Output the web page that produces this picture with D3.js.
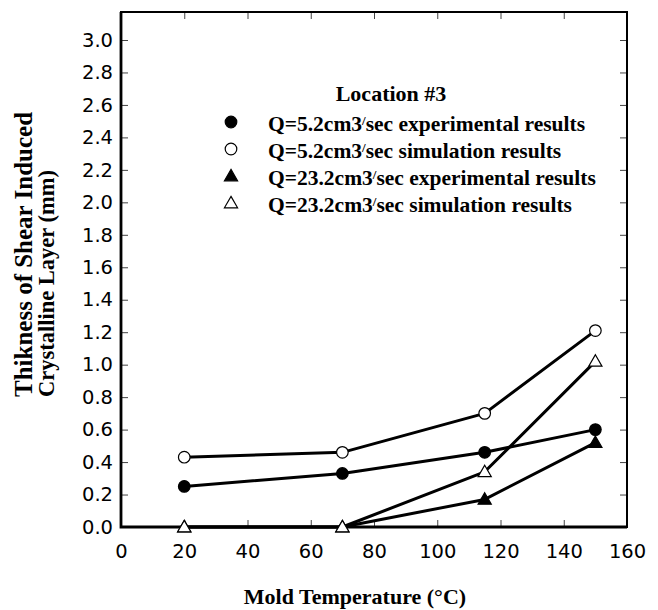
<!DOCTYPE html>
<html>
<head>
<meta charset="utf-8">
<script src="https://cdn.jsdelivr.net/npm/d3@7"></script>
<style>
  html, body { margin: 0; padding: 0; background: #fff; }
  svg { display: block; }
</style>
</head>
<body>
<svg id="chart" width="658" height="610"></svg>
<script>
// ---- data ----
const temperatures = [20, 70, 115, 150];
const q52Experimental = [0.25, 0.33, 0.46, 0.60];
const q52Simulation = [0.43, 0.46, 0.70, 1.21];
const q232Experimental = [0.0, 0.0, 0.17, 0.52];
const q232Simulation = [0.0, 0.0, 0.34, 1.02];
const xTicks = [0, 20, 40, 60, 80, 100, 120, 140, 160];
const yTicks = [0.0, 0.2, 0.4, 0.6, 0.8, 1.0, 1.2, 1.4, 1.6, 1.8, 2.0, 2.2, 2.4, 2.6, 2.8, 3.0];
const legendTitle = "Location #3";
const seriesNames = [
  "Q=5.2cm3/sec experimental results",
  "Q=5.2cm3/sec simulation results",
  "Q=23.2cm3/sec experimental results",
  "Q=23.2cm3/sec simulation results"
];
const xTitle = "Mold Temperature (°C)";
const yTitleLines = ["Thikness of Shear Induced", "Crystalline Layer (mm)"];

// ---- layout ----
const svg = d3.select("#chart");
const plotLeft = 121, plotRight = 627, plotTop = 12, plotBottom = 527;
const x = d3.scaleLinear().domain([0, 160]).range([plotLeft, plotRight]);
const y = d3.scaleLinear().domain([0, 3]).range([plotBottom, 40]);

const series = [
  { name: seriesNames[1], values: q52Simulation, shape: "circle", fill: "#fff" },
  { name: seriesNames[0], values: q52Experimental, shape: "circle", fill: "#000" },
  { name: seriesNames[2], values: q232Experimental, shape: "triangle", fill: "#000" },
  { name: seriesNames[3], values: q232Simulation, shape: "triangle", fill: "#fff" }
];

const tickFont = "'DejaVu Sans', sans-serif";
const serifFont = "'Liberation Serif', 'Times New Roman', serif";

// axes (ticks inward)
const gx = svg.append("g").attr("transform", `translate(0,${plotBottom})`)
  .call(d3.axisBottom(x).tickValues(xTicks).tickFormat(d3.format("d")).tickSizeInner(-7).tickSizeOuter(0).tickPadding(17));
const gy = svg.append("g").attr("transform", `translate(${plotLeft},0)`)
  .call(d3.axisLeft(y).tickValues(yTicks).tickFormat(d3.format(".1f")).tickSizeInner(-7).tickSizeOuter(0).tickPadding(8));
const gt = svg.append("g").attr("transform", `translate(0,${plotTop})`)
  .call(d3.axisTop(x).tickValues(xTicks.slice(1, -1)).tickFormat("").tickSizeInner(-7).tickSizeOuter(0));
const gr = svg.append("g").attr("transform", `translate(${plotRight},0)`)
  .call(d3.axisRight(y).tickValues(yTicks.slice(1)).tickFormat("").tickSizeInner(-7).tickSizeOuter(0));
[gx, gy, gt, gr].forEach(g => {
  g.select(".domain").remove();
  g.selectAll(".tick line").attr("stroke", "#444").attr("stroke-width", 1);
  g.selectAll(".tick text").attr("font-family", tickFont).attr("font-size", 19.5).attr("fill", "#000");
});
gx.selectAll(".tick text").attr("dy", "0.71em");

// frame
svg.append("rect").attr("x", plotLeft).attr("y", plotTop).attr("width", plotRight - plotLeft).attr("height", plotBottom - plotTop)
  .attr("fill", "none").attr("stroke", "#000").attr("stroke-width", 2);
svg.append("path").attr("d", `M${plotLeft},${plotTop}V${plotBottom}H${plotRight}`)
  .attr("fill", "none").attr("stroke", "#000").attr("stroke-width", 2.8);

// lines
const line = d3.line().x((d, i) => x(temperatures[i])).y(d => y(d));
series.forEach(s => {
  svg.append("path").datum(s.values).attr("d", line)
    .attr("fill", "none").attr("stroke", "#000").attr("stroke-width", 3).attr("stroke-linejoin", "round");
});

// markers
const triSym = d3.symbol().type(d3.symbolTriangle).size(75);
function drawMarker(g, shape, fill, cx, cy) {
  if (shape === "circle") {
    g.append("circle").attr("cx", cx).attr("cy", cy).attr("r", 5.8)
      .attr("fill", fill).attr("stroke", "#000").attr("stroke-width", 1.2);
  } else {
    g.append("path").attr("d", triSym()).attr("transform", `translate(${cx},${cy + 1})`)
      .attr("fill", fill).attr("stroke", "#000").attr("stroke-width", 1.2);
  }
}
const mg = svg.append("g");
series.forEach(s => {
  s.values.forEach((v, i) => drawMarker(mg, s.shape, s.fill, x(temperatures[i]), y(v)));
});

// legend
svg.append("text").attr("x", 391).attr("y", 101).attr("text-anchor", "middle")
  .attr("font-family", serifFont).attr("font-weight", "bold").attr("font-size", 22).text(legendTitle);
const legendOrder = [
  { name: seriesNames[0], shape: "circle", fill: "#000" },
  { name: seriesNames[1], shape: "circle", fill: "#fff" },
  { name: seriesNames[2], shape: "triangle", fill: "#000" },
  { name: seriesNames[3], shape: "triangle", fill: "#fff" }
];
const lg = svg.append("g");
legendOrder.forEach((s, i) => {
  const cy = 122 + i * 27;
  drawMarker(lg, s.shape, s.fill, 231, cy);
  const parts = s.name.split("/");
  const t = lg.append("text").attr("x", 268).attr("y", cy + 9)
    .attr("font-family", serifFont).attr("font-weight", "bold").attr("font-size", 21.5);
  t.append("tspan").text(parts[0]);
  t.append("tspan").attr("font-size", 13).attr("dy", -6).text("/");
  t.append("tspan").attr("dy", 6).text(parts[1]);
});

// axis titles
svg.append("text").attr("x", 355).attr("y", 604).attr("text-anchor", "middle")
  .attr("font-family", serifFont).attr("font-weight", "bold").attr("font-size", 22).text(xTitle);
const yTitleSizes = [25, 22.5];
const yTitleBaselines = [32, 54];
yTitleLines.forEach((ln, i) => {
  svg.append("text").attr("transform", `translate(${yTitleBaselines[i]},397) rotate(-90)`)
    .attr("text-anchor", "start")
    .attr("font-family", serifFont).attr("font-weight", "bold").attr("font-size", yTitleSizes[i]).text(ln);
});
</script>
</body>
</html>
